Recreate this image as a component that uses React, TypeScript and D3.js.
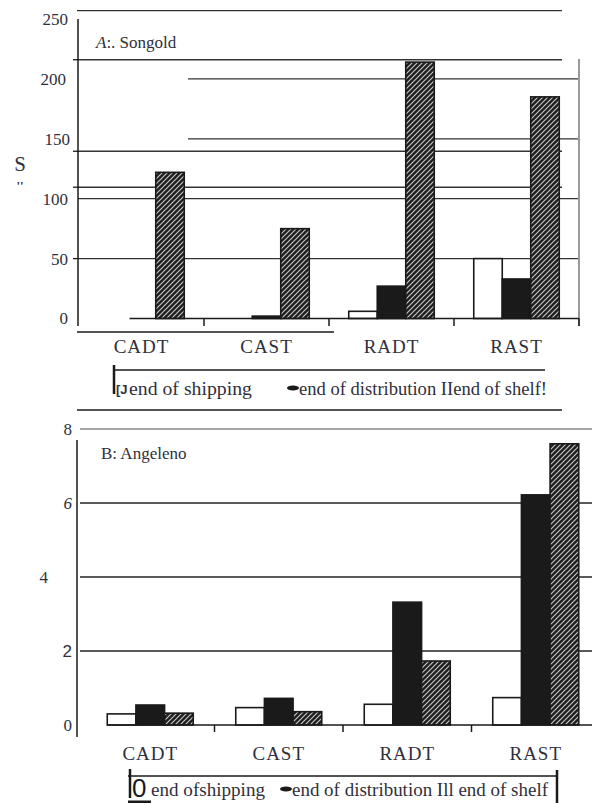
import React from "react";
import * as d3 from "d3";

// ---------- data ----------
const categories = ["CADT", "CAST", "RADT", "RAST"];
const seriesKeys = ["shipping", "distribution", "shelf"];

const songoldShipping = [0, 0, 6, 50];
const songoldDistribution = [0, 2, 27, 33];
const songoldShelf = [122, 75, 214, 185];

const angelenoShipping = [0.3, 0.47, 0.56, 0.74];
const angelenoDistribution = [0.54, 0.72, 3.32, 6.22];
const angelenoShelf = [0.32, 0.36, 1.73, 7.6];

const songoldTicks = [0, 50, 100, 150, 200, 250];
const angelenoTicks = [0, 2, 4, 6, 8];
// extra scanned rules in panel A (value units)
const songoldRules = [257, 216, 139.6, 109.6];

const SERIF = "Liberation Serif, Times New Roman, Times, DejaVu Serif, serif";
const SANS = "Liberation Sans, Arial, DejaVu Sans, sans-serif";
const TXT = "#30303c";
const INK = "#1a1a1a";

function bars(
  vals: number[][],
  x: d3.ScaleBand<string>,
  y: d3.ScaleLinear<number, number>,
  groupW: number,
  prefix: string
) {
  const sub = d3.scaleBand<string>().domain(seriesKeys).range([-groupW / 2, groupW / 2]);
  const out: any[] = [];
  categories.forEach((c, i) => {
    const cx = (x(c) as number) + x.bandwidth() / 2;
    seriesKeys.forEach((k, j) => {
      const v = vals[j][i];
      if (v <= 0) return;
      const x0 = cx + (sub(k) as number);
      const y0 = y(v);
      const h = y(0) - y0;
      const fill = k === "shipping" ? "#fff" : k === "distribution" ? INK : "url(#hatch)";
      out.push(
        <rect
          key={`${prefix}-${c}-${k}`}
          x={x0}
          y={y0}
          width={sub.bandwidth()}
          height={h}
          fill={fill}
          stroke={INK}
          strokeWidth={1.6}
        />
      );
    });
  });
  return out;
}

export default function App() {
  const yA = d3.scaleLinear().domain([0, 250]).range([318.5, 19]);
  const xA = d3.scaleBand<string>().domain(categories).range([79, 579]);
  const yB = d3.scaleLinear().domain([0, 8]).range([725, 429]);
  const xB = d3.scaleBand<string>().domain(categories).range([86, 600]);

  const valsA = [songoldShipping, songoldDistribution, songoldShelf];
  const valsB = [angelenoShipping, angelenoDistribution, angelenoShelf];

  const gridStartA: Record<number, number> = { 50: 78, 100: 78, 150: 188, 200: 188 };
  const labelRightA: Record<number, number> = { 0: 68, 50: 68, 100: 68, 150: 70, 200: 66, 250: 68 };
  const labelRightB: Record<number, number> = { 0: 72, 2: 72, 4: 48, 6: 72, 8: 72 };
  const labelFontB: Record<number, any> = {
    0: { fontFamily: SERIF },
    2: { fontFamily: SANS },
    4: { fontFamily: SERIF },
    6: { fontFamily: SERIF, fontStyle: "italic" },
    8: { fontFamily: SERIF },
  };

  return (
    <svg
      width={592}
      height={803}
      viewBox="0 0 592 803"
      style={{ position: "absolute", left: 0, top: 0, background: "#fff" }}
    >
      <defs>
        <pattern id="hatch" patternUnits="userSpaceOnUse" width={5} height={5}>
          <rect width={5} height={5} fill="#1e1e1e" />
          <path d="M-1,1 L1,-1 M0,5 L5,0 M4,6 L6,4" stroke="#c4c4c4" strokeWidth={1.2} />
        </pattern>
      </defs>

      {/* ================= Panel A ================= */}
      {songoldRules.map((v, i) => (
        <line key={`ra${i}`} x1={77} x2={562} y1={yA(v)} y2={yA(v)} stroke="#333" strokeWidth={1.4} />
      ))}
      {songoldTicks
        .filter((t) => t > 0 && t < 250)
        .map((t) => (
          <line
            key={`ga${t}`}
            x1={gridStartA[t]}
            x2={579}
            y1={yA(t)}
            y2={yA(t)}
            stroke="#333"
            strokeWidth={1.3}
          />
        ))}
      <line x1={78} x2={78} y1={19} y2={326} stroke={INK} strokeWidth={1.5} />
      {[yA(50), yA(109.6), yA(139.6), yA(216)].map((yy, i) => (
        <line key={`tka${i}`} x1={73} x2={78} y1={yy} y2={yy} stroke={INK} strokeWidth={1.3} />
      ))}
      <line x1={579} x2={579} y1={59} y2={326} stroke="#999" strokeWidth={2} />
      {songoldTicks.map((t) => (
        <text
          key={`la${t}`}
          x={labelRightA[t]}
          y={yA(t)}
          dy="0.35em"
          textAnchor="end"
          fontFamily={SERIF}
          fontSize={17}
          fill={TXT}
        >
          {t}
        </text>
      ))}
      <text x={20} y={171} textAnchor="middle" fontFamily={SERIF} fontSize={21} fill={TXT}>
        S
      </text>
      <text x={20} y={190} textAnchor="middle" fontFamily={SERIF} fontSize={13} fontWeight="bold" fill={TXT}>
        ''
      </text>
      <text x={96} y={48} fontFamily={SERIF} fontSize={17} fill={TXT}>
        <tspan fontStyle="italic">A</tspan>:. Songold
      </text>
      {bars(valsA, xA, yA, 85.5, "A")}
      <line
        x1={(xA(categories[0]) as number) + xA.bandwidth() / 2 - 12}
        x2={579}
        y1={yA(0)}
        y2={yA(0)}
        stroke={INK}
        strokeWidth={1.5}
      />
      {categories.map((c) => {
        const xx = (xA(c) as number) + xA.step();
        return <line key={`xta${c}`} x1={xx} x2={xx} y1={yA(0)} y2={326} stroke={INK} strokeWidth={1.5} />;
      })}
      <line x1={77} x2={334} y1={332} y2={332} stroke={INK} strokeWidth={1.4} />
      {categories.map((c) => (
        <text
          key={`ca${c}`}
          x={(xA(c) as number) + xA.bandwidth() / 2}
          y={353}
          textAnchor="middle"
          fontFamily={SERIF}
          fontSize={19}
          letterSpacing={1}
          fill={TXT}
        >
          {c}
        </text>
      ))}
      {/* legend A */}
      <line x1={113} x2={545} y1={370} y2={370} stroke={INK} strokeWidth={1.5} />
      <line x1={114} x2={114} y1={365} y2={394} stroke={INK} strokeWidth={2.5} />
      <text x={116} y={394} fontFamily={SANS} fontSize={13} fontWeight="bold" fill={TXT}>
        [J
      </text>
      <text x={129} y={395} fontFamily={SERIF} fontSize={19.5} fill={TXT} textLength={123} lengthAdjust="spacingAndGlyphs">
        end of shipping
      </text>
      <ellipse cx={293} cy={388} rx={6} ry={2.6} fill={INK} />
      <text x={299} y={395} fontFamily={SERIF} fontSize={19.5} fill={TXT} textLength={248} lengthAdjust="spacingAndGlyphs">
        end of distribution IIend of shelf!
      </text>

      <line x1={77} x2={562} y1={410} y2={410} stroke={INK} strokeWidth={1.5} />

      {/* ================= Panel B ================= */}
      {angelenoTicks
        .filter((t) => t > 0)
        .map((t) => (
          <line
            key={`gb${t}`}
            x1={80}
            x2={592}
            y1={yB(t)}
            y2={yB(t)}
            stroke={t === 8 ? "#888" : "#222"}
            strokeWidth={1.4}
          />
        ))}
      <line x1={77} x2={77} y1={440} y2={737} stroke={INK} strokeWidth={1.5} />
      {angelenoTicks.map((t) => (
        <text
          key={`lb${t}`}
          x={labelRightB[t]}
          y={yB(t)}
          dy="0.35em"
          textAnchor="end"
          fontSize={17}
          fill={TXT}
          {...labelFontB[t]}
        >
          {t}
        </text>
      ))}
      <text x={101} y={459} fontFamily={SERIF} fontSize={17} fill={TXT}>
        B: Angeleno
      </text>
      {bars(valsB, xB, yB, 86, "B")}
      <line
        x1={(xB(categories[0]) as number) + xB.bandwidth() / 2 - 43}
        x2={592}
        y1={yB(0)}
        y2={yB(0)}
        stroke={INK}
        strokeWidth={1.5}
      />
      {categories.slice(0, 3).map((c) => {
        const xx = (xB(c) as number) + xB.step();
        return <line key={`xtb${c}`} x1={xx} x2={xx} y1={yB(0)} y2={732} stroke={INK} strokeWidth={1.5} />;
      })}
      {categories.map((c) => (
        <text
          key={`cb${c}`}
          x={(xB(c) as number) + xB.bandwidth() / 2}
          y={760}
          textAnchor="middle"
          fontFamily={SERIF}
          fontSize={19}
          letterSpacing={1}
          fill={TXT}
        >
          {c}
        </text>
      ))}
      {/* legend B */}
      <line x1={128} x2={557} y1={776} y2={776} stroke={INK} strokeWidth={1.5} />
      <line x1={130} x2={130} y1={769} y2={798} stroke={INK} strokeWidth={2.5} />
      <text x={132} y={797} fontFamily={SANS} fontSize={26} fill={INK}>
        0
      </text>
      <line x1={128} x2={151} y1={802} y2={802} stroke={INK} strokeWidth={3} />
      <text x={151} y={796} fontFamily={SERIF} fontSize={19} fill={TXT} textLength={114} lengthAdjust="spacingAndGlyphs">
        end ofshipping
      </text>
      <ellipse cx={286} cy={789} rx={6} ry={2.6} fill={INK} />
      <text x={292} y={796} fontFamily={SERIF} fontSize={19} fill={TXT} textLength={256} lengthAdjust="spacingAndGlyphs">
        end of distribution Ill end of shelf
      </text>
      <line x1={557} x2={557} y1={770} y2={803} stroke={INK} strokeWidth={2.5} />
    </svg>
  );
}
